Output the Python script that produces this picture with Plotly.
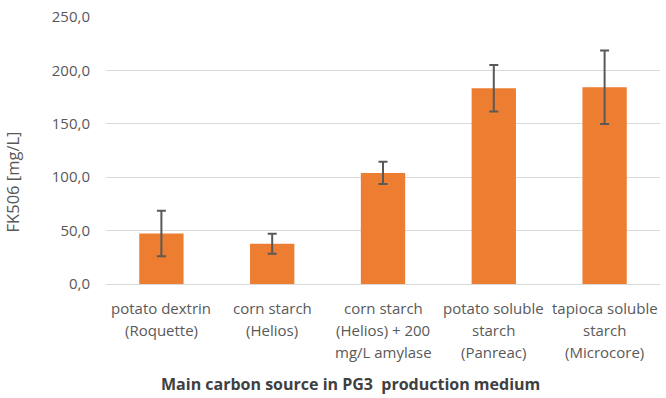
import plotly.graph_objects as go

categories = [
    "potato dextrin (Roquette)",
    "corn starch (Helios)",
    "corn starch (Helios) + 200 mg/L amylase",
    "potato soluble starch (Panreac)",
    "tapioca soluble starch (Microcore)",
]
label_lines = [
    ["potato dextrin", "(Roquette)"],
    ["corn starch", "(Helios)"],
    ["corn starch", "(Helios) + 200", "mg/L amylase"],
    ["potato soluble", "starch", "(Panreac)"],
    ["tapioca soluble", "starch", "(Microcore)"],
]
values = [47.3, 37.7, 104.0, 183.2, 184.2]
errors = [21.2, 9.3, 10.4, 21.8, 34.4]
y_ticks = [0, 50, 100, 150, 200, 250]

FONT = "Open Sans"
GRAY = "#595959"

fig = go.Figure(
    go.Bar(
        x=categories,
        y=values,
        marker=dict(color="#ED7D31", line=dict(width=0)),
        error_y=dict(type="data", array=errors, visible=True,
                     color="#595959", thickness=2, width=4.5),
    )
)

fig.update_layout(
    width=666, height=398,
    margin=dict(l=106, r=6, t=13, b=114),
    paper_bgcolor="white", plot_bgcolor="white",
    separators=",.",
    bargap=0.6,
    showlegend=False,
    font=dict(family=FONT, color=GRAY, size=13),
)
fig.update_xaxes(showgrid=False, showline=False, ticks="", showticklabels=False)
fig.update_yaxes(
    range=[0, 250], tickvals=y_ticks, tickformat=".1f",
    showgrid=True, gridcolor="#D9D9D9", gridwidth=1.3,
    zeroline=True, zerolinecolor="#D9D9D9", zerolinewidth=1.3,
    showline=False, ticks="", ticklabelstandoff=15,
    tickfont=dict(size=15, color=GRAY, family=FONT),
)

# multi-line category labels with Excel-like line spacing
for cat, lines in zip(categories, label_lines):
    for i, line in enumerate(lines):
        fig.add_annotation(
            x=cat, xref="x", y=0, yref="paper", text=line, showarrow=False,
            xanchor="center", yanchor="middle", yshift=-(24 + 22 * i),
            font=dict(size=15, color=GRAY, family=FONT),
        )

fig.add_annotation(
    text="<b>Main carbon source in PG3  production medium</b>",
    x=0.441, xref="paper", y=0, yref="paper", yshift=-100,
    xanchor="center", yanchor="middle", showarrow=False,
    font=dict(size=16, color="#404040", family=FONT),
)
fig.add_annotation(
    text="FK506 [mg/L]", textangle=-90,
    x=-0.168, xref="paper", y=0.384, yref="paper",
    xanchor="center", yanchor="middle", showarrow=False,
    font=dict(size=16.5, color=GRAY, family=FONT),
)

fig.write_html("out.html")
